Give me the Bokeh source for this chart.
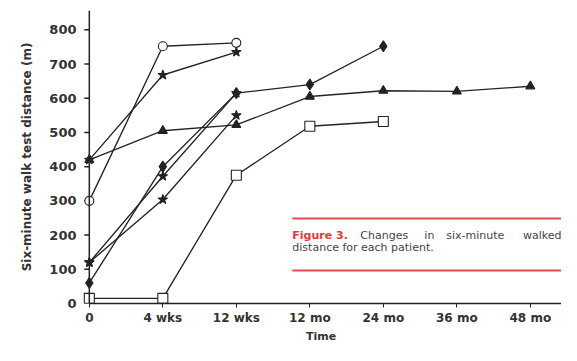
import numpy as np
from bokeh.plotting import figure
from bokeh.models import FixedTicker, Range1d, Label, BoxAnnotation, Span
from bokeh.embed import file_html
from bokeh.resources import INLINE

# ---- data ----
time_labels = ["0", "4 wks", "12 wks", "12 mo", "24 mo", "36 mo", "48 mo"]
y_ticks = [0, 100, 200, 300, 400, 500, 600, 700, 800]

pt_open_circle = [300, 752, 762]
pt_star_top = [420, 668, 735]
pt_triangle = [420, 505, 522, 605, 622, 620, 635]
pt_diamond = [60, 400, 615, 640, 752]
pt_star_mid = [120, 372, 615]
pt_cross = [120, 304, 550]
pt_open_square = [15, 15, 375, 518, 532]

series = [
    (pt_open_circle, "circle", "white", 9),
    (pt_star_top, "star", "#222222", 10),
    (pt_triangle, "triangle", "#222222", 9),
    (pt_diamond, "diamond", "#222222", 11),
    (pt_star_mid, "star", "#222222", 10),
    (pt_cross, "star", "#222222", 10),
    (pt_open_square, "square", "white", 10),
]

W, H = 561, 345
X_START, X_END = -0.12, 6.424
p = figure(width=W, height=H, output_backend="svg", toolbar_location=None,
           x_range=Range1d(X_START, X_END), y_range=Range1d(0, 856.5),
           min_border_left=80, min_border_right=0, min_border_top=10,
           min_border_bottom=40)
p.outline_line_color = None
p.grid.visible = False
p.background_fill_color = "white"

axis_col = "#222222"
# y axis line and outward ticks at time 0
p.add_layout(Span(location=0, dimension="height", line_color=axis_col,
                  line_width=1.5))
p.ray(x=[0] * len(y_ticks), y=y_ticks, length=5, length_units="screen",
      angle=np.pi, line_color=axis_col, line_width=1.5)

line_col = "#242424"
for vals, marker, fill, size in series:
    xs = list(range(len(vals)))
    p.line(xs, vals, line_color=line_col, line_width=1.35)
for vals, marker, fill, size in series:
    xs = list(range(len(vals)))
    p.scatter(xs, vals, marker=marker, size=size, fill_color=fill,
              line_color="#222222", line_width=1.1)

font = "DejaVu Sans"
# x axis
xa = p.xaxis[0]
xa.ticker = FixedTicker(ticks=list(range(len(time_labels))))
xa.major_label_overrides = {i: t for i, t in enumerate(time_labels)}
xa.bounds = (0, X_END)
xa.minor_tick_line_color = None
xa.major_tick_out = 4
xa.major_tick_in = 0
xa.axis_line_width = 1.5
xa.axis_line_color = axis_col
xa.major_tick_line_color = axis_col
xa.major_label_standoff = 3
xa.major_label_text_font = font
xa.major_label_text_font_style = "bold"
xa.major_label_text_font_size = "12px"
xa.major_label_text_color = "#333333"
xa.axis_label = "Time"
xa.axis_label_text_font = font
xa.axis_label_text_font_style = "bold"
xa.axis_label_text_font_size = "11px"
xa.axis_label_text_color = "#333333"
xa.axis_label_standoff = 2

# y axis: labels only (line and ticks drawn at time 0 above)
ya = p.yaxis[0]
ya.ticker = FixedTicker(ticks=y_ticks)
ya.axis_line_color = None
ya.major_tick_line_color = None
ya.minor_tick_line_color = None
ya.major_tick_out = 0
ya.major_tick_in = 0
ya.major_label_standoff = 4
ya.major_label_text_font = font
ya.major_label_text_font_style = "bold"
ya.major_label_text_font_size = "13px"
ya.major_label_text_color = "#333333"
ya.axis_label = "Six-minute walk test distance (m)"
ya.axis_label_text_font = font
ya.axis_label_text_font_style = "bold"
ya.axis_label_text_font_size = "12px"
ya.axis_label_text_color = "#333333"
ya.axis_label_standoff = 12

# caption box
red = "#e2393c"
p.add_layout(BoxAnnotation(left=2.762, right=X_END, bottom=245.5, top=251.5,
                           fill_color=red, fill_alpha=0.9, line_color=None))
p.add_layout(BoxAnnotation(left=2.762, right=X_END, bottom=93.5, top=99.5,
                           fill_color=red, fill_alpha=0.9, line_color=None))
cap_kw = dict(text_font=font, text_font_size="11px", text_baseline="middle")
p.add_layout(Label(x=2.762, y=199, text="Figure 3.", text_color=red,
                   text_font_style="bold", **cap_kw))
p.add_layout(Label(x=3.687, y=199, text="Changes", text_color="#444444", **cap_kw))
p.add_layout(Label(x=4.558, y=199, text="in", text_color="#444444", **cap_kw))
p.add_layout(Label(x=4.857, y=199, text="six-minute", text_color="#444444", **cap_kw))
p.add_layout(Label(x=X_END, y=199, text="walked", text_color="#444444",
                   text_align="right", **cap_kw))
p.add_layout(Label(x=2.762, y=164, text="distance for each patient.",
                   text_color="#444444", **cap_kw))

open("out.html", "w").write(file_html(p, INLINE))
